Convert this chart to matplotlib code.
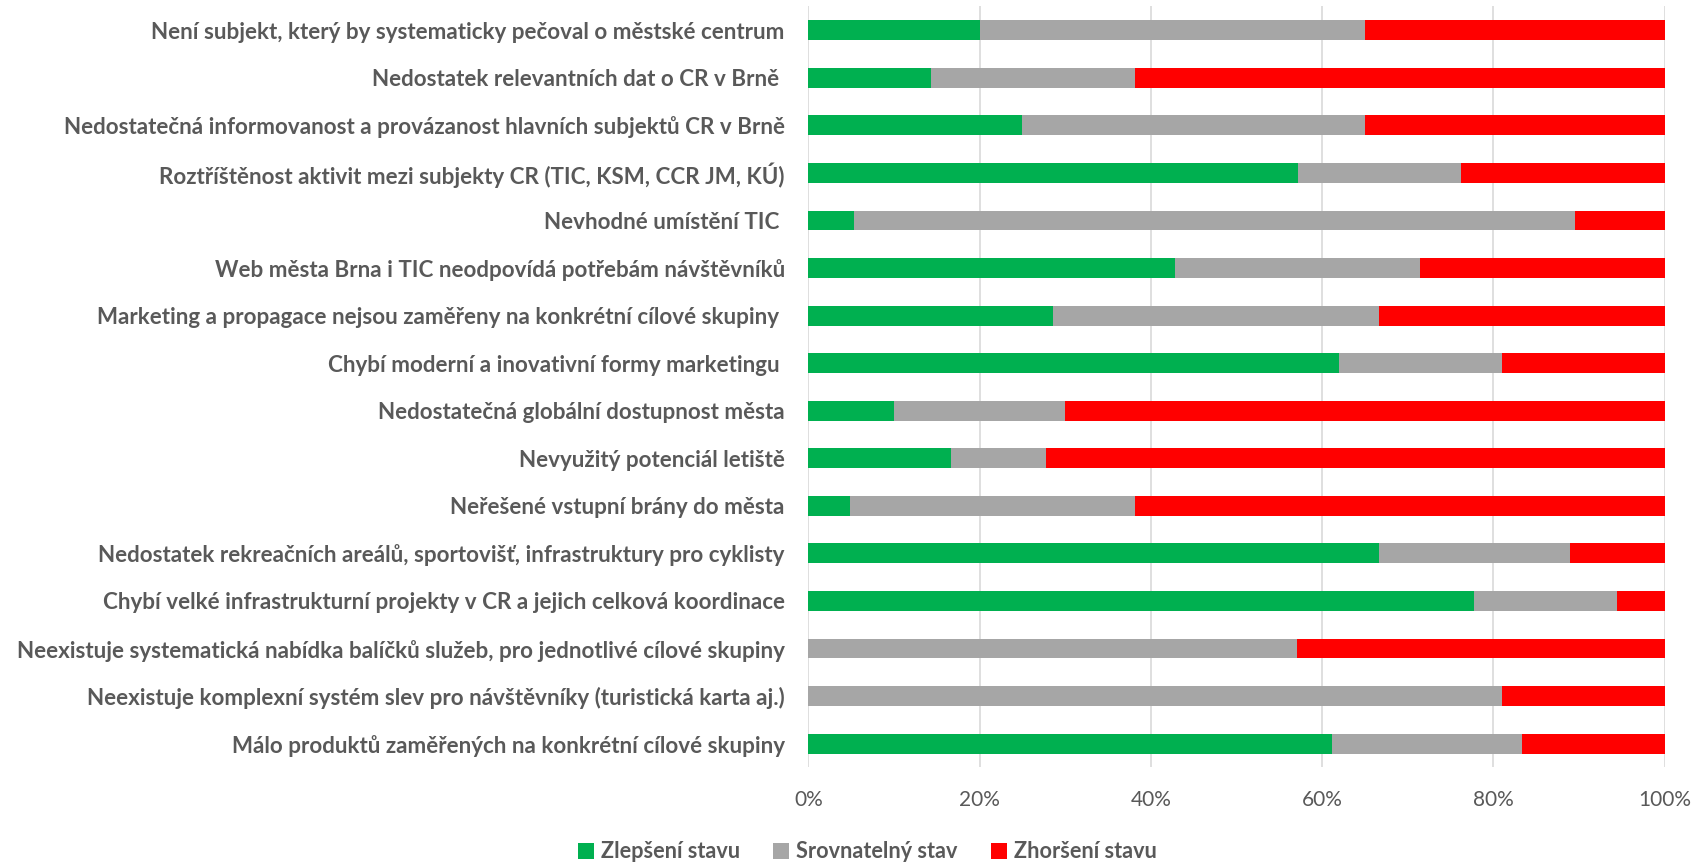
import matplotlib.pyplot as plt
import numpy as np
from matplotlib.patches import Patch
from matplotlib.ticker import PercentFormatter

plt.rcParams['font.family'] = ['Lato', 'DejaVu Sans']

# kategorie (shora dolu)
categories = [
    'Není subjekt, který by systematicky pečoval o městské centrum',
    'Nedostatek relevantních dat o CR v Brně ',
    'Nedostatečná informovanost a provázanost hlavních subjektů CR v Brně',
    'Roztříštěnost aktivit mezi subjekty CR (TIC, KSM, CCR JM, KÚ)',
    'Nevhodné umístění TIC ',
    'Web města Brna i TIC neodpovídá potřebám návštěvníků',
    'Marketing a propagace nejsou zaměřeny na konkrétní cílové skupiny ',
    'Chybí moderní a inovativní formy marketingu ',
    'Nedostatečná globální dostupnost města',
    'Nevyužitý potenciál letiště',
    'Neřešené vstupní brány do města',
    'Nedostatek rekreačních areálů, sportovišť, infrastruktury pro cyklisty',
    'Chybí velké infrastrukturní projekty v CR a jejich celková koordinace',
    'Neexistuje systematická nabídka balíčků služeb, pro jednotlivé cílové skupiny',
    'Neexistuje komplexní systém slev pro návštěvníky (turistická karta aj.)',
    'Málo produktů zaměřených na konkrétní cílové skupiny',
]

# podily v %
zlepseni = [20.0, 14.3, 25.0, 57.1, 5.3, 42.9, 28.6, 61.9, 10.0, 16.7, 4.8, 66.7, 77.8, 0.0, 0.0, 61.1]
srovnatelny = [45.0, 23.8, 40.0, 19.0, 84.2, 28.6, 38.1, 19.0, 20.0, 11.1, 33.3, 22.2, 16.7, 57.1, 81.0, 22.2]
zhorseni = [35.0, 61.9, 35.0, 23.8, 10.5, 28.6, 33.3, 19.0, 70.0, 72.2, 61.9, 11.1, 5.6, 42.9, 19.0, 16.7]

series_names = ['Zlepšení stavu', 'Srovnatelný stav', 'Zhoršení stavu']
COLORS = ['#00B050', '#A6A6A6', '#FF0000']
TEXT = '#595959'

fig = plt.figure(figsize=(16.97, 8.64), dpi=100)
ax = fig.add_axes([0.4764, 0.1118, 0.9809 - 0.4764, 0.9925 - 0.1118])

y = np.arange(len(categories))
data = np.array([zlepseni, srovnatelny, zhorseni], dtype=float)
data = data / data.sum(axis=0) * 100
left = np.zeros(len(categories))
for vals, color, name in zip(data, COLORS, series_names):
    ax.barh(y, vals, left=left, height=0.42, color=color, label=name, zorder=3)
    left += vals

ax.set_xlim(0, 100)
ax.set_ylim(len(categories) - 0.5, -0.5)
ax.set_xticks(np.arange(0, 101, 20))
ax.xaxis.set_major_formatter(PercentFormatter(decimals=0))
ax.set_yticks(y)
ax.set_yticklabels(categories, fontsize=16.1, fontweight='bold', color=TEXT)
ax.tick_params(axis='y', length=0, pad=17)
ax.tick_params(axis='x', length=0, pad=16, labelsize=15, labelcolor=TEXT)

ax.grid(True, axis='x', color='#D9D9D9', linewidth=1.2, zorder=0)
ax.set_axisbelow(True)
for s in ax.spines.values():
    s.set_visible(False)

handles = [Patch(facecolor=c, label=n) for c, n in zip(COLORS, series_names)]
leg = fig.legend(handles=handles, loc='center', bbox_to_anchor=(0.511, 0.014),
                 ncol=3, frameon=False, handlelength=0.75, handleheight=0.75,
                 handletextpad=0.3, columnspacing=1.55,
                 prop={'size': 15.6, 'weight': 'bold'})
for t in leg.get_texts():
    t.set_color(TEXT)

fig.savefig('out.png', dpi=100)
